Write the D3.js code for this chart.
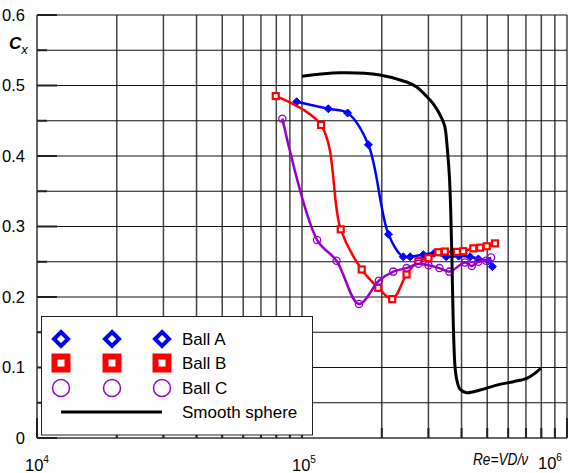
<html>
<head>
    <title>Drag coefficient of balls</title>
    <script type="text/javascript" src="https://cdn.jsdelivr.net/npm/d3@7/dist/d3.min.js"></script>
    <style>
        body { margin: 0; background: white; }
        text { font-family: "Liberation Sans", Arial, sans-serif; }
    </style>
</head>
<body>

<div id="chart-container"></div>

<script type="text/javascript">

    // Values: Reynolds number and drag coefficient
    var reA = [9.55e4, 1.257e5, 1.486e5, 1.78e5, 2.12e5, 2.41e5, 2.56e5, 2.87e5, 3.15e5, 3.5e5, 3.9e5, 4.31e5, 4.63e5, 5.05e5, 5.23e5];
    var cxA = [0.477, 0.467, 0.461, 0.416, 0.289, 0.257, 0.257, 0.260, 0.262, 0.257, 0.258, 0.257, 0.254, 0.251, 0.243];

    var reB = [7.96e4, 1.18e5, 1.40e5, 1.68e5, 1.94e5, 2.19e5, 2.48e5, 2.75e5, 3.0e5, 3.27e5, 3.46e5, 3.84e5, 4.06e5, 4.43e5, 4.70e5, 4.98e5, 5.35e5];
    var cxB = [0.485, 0.444, 0.296, 0.239, 0.213, 0.197, 0.232, 0.251, 0.255, 0.2635, 0.2645, 0.264, 0.265, 0.269, 0.270, 0.272, 0.276];

    var reC = [8.43e4, 1.14e5, 1.35e5, 1.64e5, 1.95e5, 2.21e5, 2.48e5, 2.75e5, 3.0e5, 3.3e5, 3.6e5, 4.12e5, 4.37e5, 4.63e5, 4.95e5, 5.17e5];
    var cxC = [0.453, 0.281, 0.2515, 0.190, 0.223, 0.236, 0.241, 0.247, 0.245, 0.241, 0.236, 0.249, 0.244, 0.250, 0.2515, 0.256];

    var reS = [1.0e5, 1.39e5, 1.97e5, 2.48e5, 2.71e5, 2.91e5, 3.13e5, 3.37e5, 3.46e5, 3.53e5, 3.60e5, 3.64e5, 3.68e5, 3.72e5, 3.78e5, 3.84e5, 3.95e5, 4.18e5, 4.70e5, 5.43e5, 6.27e5, 7.05e5, 7.57e5, 7.96e5];
    var cxS = [0.513, 0.518, 0.515, 0.505, 0.498, 0.487, 0.474, 0.4535, 0.4416, 0.413, 0.3706, 0.3234, 0.2525, 0.167, 0.101, 0.0823, 0.069, 0.0643, 0.068, 0.075, 0.0799, 0.0847, 0.0918, 0.0989];

    // Tick values
    var yTicks = [0, 0.1, 0.2, 0.3, 0.4, 0.5, 0.6];
    var yLabels = ["0", "0.1", "0.2", "0.3", "0.4", "0.5", "0.6"];
    var xDecades = [1e4, 1e5, 1e6];
    var xExponents = ["4", "5", "6"];

    var legendNames = ["Ball A", "Ball B", "Ball C", "Smooth sphere"];

    function pairs(xs, ys) {
        return xs.map(function (v, i) { return [v, ys[i]]; });
    }

    var svg = d3.select("#chart-container").append("svg")
        .attr("width", 585)
        .attr("height", 473);

    var x = d3.scaleLog().domain([1e4, 1e6]).range([37, 567]);
    var y = d3.scaleLinear().domain([0, 0.6]).range([438, 15]);

    // Grid: every 1..9 in each decade, every 0.05 in Cx
    var xGrid = [];
    [1e4, 1e5].forEach(function (d) {
        for (var k = 1; k < 10; k++) xGrid.push(k * d);
    });
    xGrid.push(1e6);
    var yGrid = d3.range(0, 13).map(function (i) { return i * 0.05; });

    svg.selectAll(".vgrid").data(xGrid).enter().append("line")
        .attr("x1", function (d) { return x(d); })
        .attr("x2", function (d) { return x(d); })
        .attr("y1", y(0.6))
        .attr("y2", y(0))
        .attr("stroke", "#444")
        .attr("stroke-width", 1.5);

    svg.selectAll(".hgrid").data(yGrid).enter().append("line")
        .attr("x1", x(1e4))
        .attr("x2", x(1e6))
        .attr("y1", function (d) { return y(d); })
        .attr("y2", function (d) { return y(d); })
        .attr("stroke", "#111")
        .attr("stroke-width", 1.2);

    // Frame lines on the left and bottom
    svg.append("line")
        .attr("x1", x(1e4)).attr("x2", x(1e4))
        .attr("y1", y(0.6)).attr("y2", y(0))
        .attr("stroke", "#666").attr("stroke-width", 2);
    svg.append("line")
        .attr("x1", x(1e4)).attr("x2", x(1e6))
        .attr("y1", y(0)).attr("y2", y(0))
        .attr("stroke", "#666").attr("stroke-width", 2);

    // Inward ticks
    svg.selectAll(".ytick").data(yGrid).enter().append("line")
        .attr("x1", x(1e4))
        .attr("x2", function (d, i) { return x(1e4) + (i % 2 === 0 ? 20 : 10); })
        .attr("y1", function (d) { return y(d); })
        .attr("y2", function (d) { return y(d); })
        .attr("stroke", "#222").attr("stroke-width", 2);
    svg.selectAll(".xtick").data(xGrid).enter().append("line")
        .attr("x1", function (d) { return x(d); })
        .attr("x2", function (d) { return x(d); })
        .attr("y1", y(0))
        .attr("y2", function (d) { return y(0) - (xDecades.indexOf(d) >= 0 ? 20 : 10); })
        .attr("stroke", "#222").attr("stroke-width", 2);

    // Y labels
    svg.selectAll(".ylabel").data(yTicks).enter().append("text")
        .attr("x", 25)
        .attr("y", function (d) { return y(d); })
        .attr("dy", "0.36em")
        .attr("text-anchor", "end")
        .attr("font-size", 16.5)
        .attr("fill", "black")
        .text(function (d, i) { return yLabels[i]; });

    var cxLabel = svg.append("text").attr("x", 9).attr("y", 49).attr("font-size", 17)
        .attr("font-weight", "bold").attr("font-style", "italic");
    cxLabel.append("tspan").text("C");
    cxLabel.append("tspan").attr("dy", 5).attr("font-size", 13).attr("font-weight", "normal").text("x");

    // X labels: 10 with superscript
    var xLabelStart = [25, 292, 538];
    var xLabelBase = [471, 471, 469];
    xDecades.forEach(function (d, i) {
        var t = svg.append("text")
            .attr("x", xLabelStart[i])
            .attr("y", xLabelBase[i])
            .attr("font-size", 16.5)
            .attr("fill", "black");
        t.append("tspan").text("10");
        t.append("tspan").attr("dy", -8).attr("font-size", 10).text(xExponents[i]);
    });

    svg.append("text")
        .attr("x", 473)
        .attr("y", 465)
        .attr("font-size", 16.3)
        .attr("font-style", "italic")
        .attr("textLength", 55)
        .attr("lengthAdjust", "spacingAndGlyphs")
        .text("Re=VD/\u03bd");

    // Legend box (white, covers the grid)
    svg.append("rect")
        .attr("x", 41.5).attr("y", 316.5)
        .attr("width", 271).attr("height", 118.5)
        .attr("fill", "white")
        .attr("stroke", "#222").attr("stroke-width", 1);

    // Series lines
    var line = d3.line()
        .x(function (d) { return x(d[0]); })
        .y(function (d) { return y(d[1]); })
        .curve(d3.curveCatmullRom.alpha(0.5));

    var dataA = pairs(reA, cxA), dataB = pairs(reB, cxB), dataC = pairs(reC, cxC), dataS = pairs(reS, cxS);

    svg.append("path").attr("d", line(dataA)).attr("fill", "none").attr("stroke", "#0000ff").attr("stroke-width", 2.5);
    svg.selectAll(".ptA").data(dataA).enter().append("path")
        .attr("transform", function (d) { return "translate(" + x(d[0]) + "," + y(d[1]) + ")"; })
        .attr("d", "M0,-4L4,0L0,4L-4,0Z")
        .attr("fill", "#0000ff").attr("stroke", "#0000ff").attr("stroke-width", 1);

    svg.append("path").attr("d", line(dataB)).attr("fill", "none").attr("stroke", "#ff0000").attr("stroke-width", 2.5);
    svg.selectAll(".ptB").data(dataB).enter().append("rect")
        .attr("x", function (d) { return x(d[0]) - 3; })
        .attr("y", function (d) { return y(d[1]) - 3; })
        .attr("width", 6).attr("height", 6)
        .attr("fill", "white").attr("stroke", "#ff0000").attr("stroke-width", 2.2);

    svg.append("path").attr("d", line(dataC)).attr("fill", "none").attr("stroke", "#9900cc").attr("stroke-width", 2.5);
    svg.selectAll(".ptC").data(dataC).enter().append("circle")
        .attr("cx", function (d) { return x(d[0]); })
        .attr("cy", function (d) { return y(d[1]); })
        .attr("r", 3.6)
        .attr("fill", "none").attr("stroke", "#9900cc").attr("stroke-width", 1.3);

    svg.append("path").attr("d", line(dataS)).attr("fill", "none").attr("stroke", "black").attr("stroke-width", 3);

    // Legend entries
    var legendRows = [339, 363, 388, 412];
    var legendX = [61, 112, 162];

    legendX.forEach(function (lx) {
        svg.append("path")
            .attr("transform", "translate(" + lx + "," + legendRows[0] + ")")
            .attr("d", "M0,-7L7,0L0,7L-7,0Z")
            .attr("fill", "white").attr("stroke", "#0000ff").attr("stroke-width", 4);
        svg.append("rect")
            .attr("x", lx - 6.5).attr("y", legendRows[1] - 6.5)
            .attr("width", 13).attr("height", 13)
            .attr("fill", "white").attr("stroke", "#ff0000").attr("stroke-width", 6);
        svg.append("circle")
            .attr("cx", lx).attr("cy", legendRows[2]).attr("r", 8.5)
            .attr("fill", "white").attr("stroke", "#9900cc").attr("stroke-width", 1.5);
    });
    svg.append("line")
        .attr("x1", 61).attr("x2", 162)
        .attr("y1", legendRows[3]).attr("y2", legendRows[3])
        .attr("stroke", "black").attr("stroke-width", 3);

    svg.selectAll(".legtext").data(legendNames).enter().append("text")
        .attr("x", 182)
        .attr("y", function (d, i) { return legendRows[i]; })
        .attr("dy", "0.36em")
        .attr("font-size", 17)
        .attr("fill", "black")
        .text(function (d) { return d; });

</script>

</body>
</html>
